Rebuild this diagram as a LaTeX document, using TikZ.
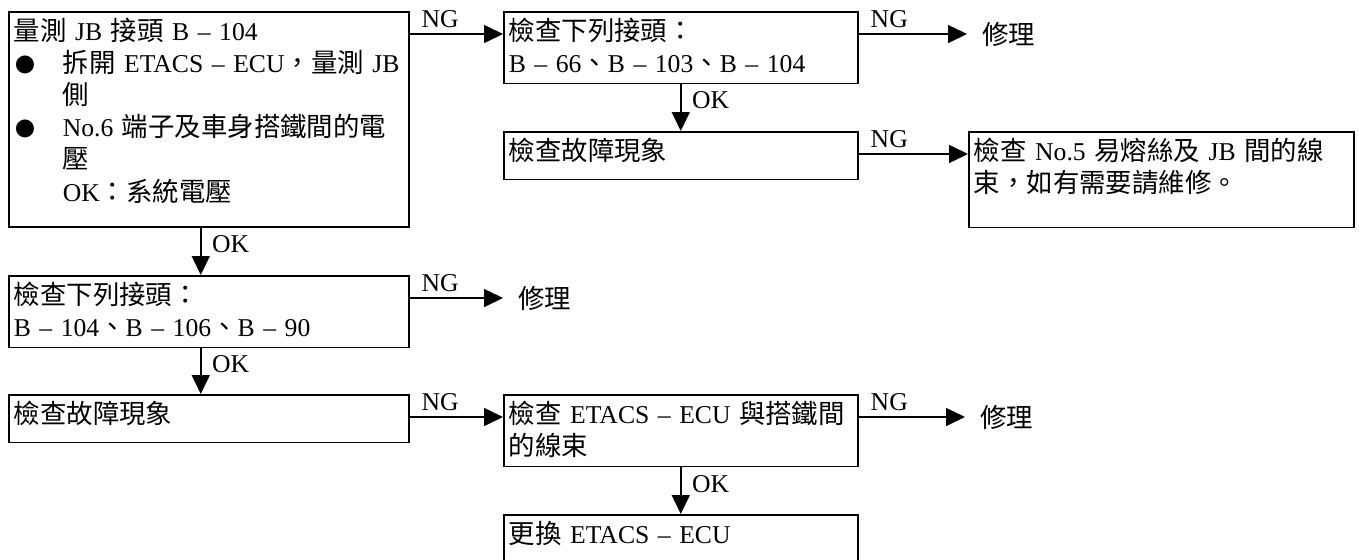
\documentclass[tikz,border=0pt]{standalone}
\usepackage{fontspec}
\setmainfont{Liberation Serif}
\newfontfamily\zhfont[Scale=1.03]{Noto Sans CJK TC}
\newcommand{\zh}[1]{{\zhfont #1}}
\newcommand{\dotmark}{\makebox[0.98cm][l]{\hspace{1pt}{\fontsize{11}{11}\selectfont\zh{●}}}}
\newcommand{\indentmark}{\hspace*{0.98cm}}
\usetikzlibrary{arrows.meta}
\tikzset{
  stepbox/.style={draw,line width=0.9pt,anchor=north west,align=left,
    inner xsep=0.1cm,inner ysep=3pt,text height=13.2pt,
    font=\fontsize{14.6}{18.3}\selectfont},
  tag/.style={inner sep=3pt,font=\fontsize{14.6}{16}\selectfont},
  fixtext/.style={anchor=west,inner xsep=0.3cm,inner ysep=0pt,
    font=\fontsize{14.6}{16}\selectfont},
  arr/.style={-{Triangle[length=0.38cm,width=0.36cm]},line width=0.9pt},
}
\begin{document}
\begin{tikzpicture}[x=0.02cm,y=-0.02cm]
  \useasboundingbox (0,0) rectangle (1359,559);
  % left column
  \node[stepbox,text width=7.8cm,text depth=103.3pt] (b1) at (8,11) {\zh{量測} JB \zh{接頭} B – 104\\
    \dotmark\zh{拆開} ETACS – ECU\zh{，量測} JB\\
    \indentmark\zh{側}\\
    \dotmark No.6 \zh{端子及車身搭鐵間的電}\\
    \indentmark\zh{壓}\\
    \indentmark OK\zh{：系統電壓}};
  \node[stepbox,text width=7.8cm,text depth=21.6pt] (b5) at (8,275) {\zh{檢查下列接頭：}\\B – 104\zh{、}B – 106\zh{、}B – 90};
  \node[stepbox,text width=7.8cm,text depth=8pt] (b6) at (8,394) {\zh{檢查故障現象}};
  % middle column
  \node[stepbox,text width=6.88cm,text depth=21.6pt] (b2) at (503,11) {\zh{檢查下列接頭：}\\B – 66\zh{、}B – 103\zh{、}B – 104};
  \node[stepbox,text width=6.88cm,text depth=8pt] (b3) at (503,131) {\zh{檢查故障現象}};
  \node[stepbox,text width=6.88cm,text depth=21.6pt] (b7) at (503,394) {\zh{檢查} ETACS – ECU \zh{與搭鐵間}\\\zh{的線束}};
  \node[stepbox,text width=6.88cm,text depth=8pt] (b8) at (503,514) {\zh{更換} ETACS – ECU};
  % right column
  \node[stepbox,text width=7.5cm,text depth=35.2pt] (b4) at (968,131) {\zh{檢查} No.5 \zh{易熔絲及} JB \zh{間的線}\\\zh{束，如有需要請維修。}};
  \node[fixtext] (r1) at (967,34) {\zh{修理}};
  \node[fixtext] (r2) at (503,298) {\zh{修理}};
  \node[fixtext] (r3) at (965,417) {\zh{修理}};

  % NG
  \draw[arr] ([yshift=-0.46cm]b1.north east) -- node[tag,above right,pos=0,xshift=3.5pt] {NG} ([yshift=-0.46cm]b2.north west);
  \draw[arr] ([yshift=-0.46cm]b2.north east) -- node[tag,above right,pos=0,xshift=3.5pt] {NG} (r1.west);
  \draw[arr] ([yshift=-0.46cm]b3.north east) -- node[tag,above right,pos=0,xshift=3.5pt] {NG} ([yshift=-0.46cm]b4.north west);
  \draw[arr] ([yshift=-0.46cm]b5.north east) -- node[tag,above right,pos=0,xshift=3.5pt] {NG} (r2.west);
  \draw[arr] ([yshift=-0.46cm]b6.north east) -- node[tag,above right,pos=0,xshift=3.5pt] {NG} ([yshift=-0.46cm]b7.north west);
  \draw[arr] ([yshift=-0.46cm]b7.north east) -- node[tag,above right,pos=0,xshift=3.5pt] {NG} (r3.west);
  % OK
  \draw[arr] ([xshift=-0.16cm]b1.south) -- node[tag,right,pos=0.35,xshift=3pt] {OK} ([xshift=-0.16cm]b5.north);
  \draw[arr] ([xshift=-0.16cm]b5.south) -- node[tag,right,pos=0.35,xshift=3pt] {OK} ([xshift=-0.16cm]b6.north);
  \draw[arr] (b2.south) -- node[tag,right,pos=0.35,xshift=3pt] {OK} (b3.north);
  \draw[arr] (b7.south) -- node[tag,right,pos=0.35,xshift=3pt] {OK} (b8.north);
\end{tikzpicture}
\end{document}
